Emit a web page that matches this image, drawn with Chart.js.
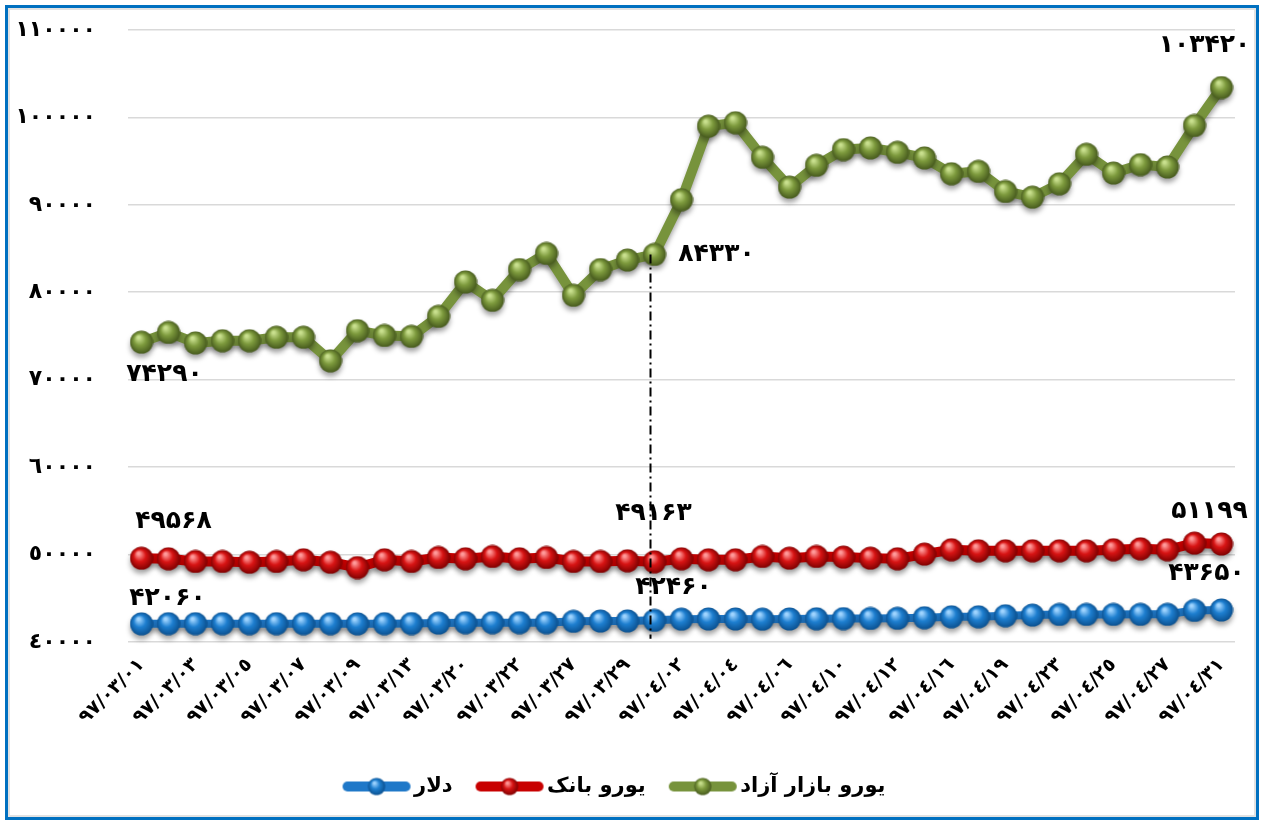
<!DOCTYPE html>
<html>
<head>
<meta charset="utf-8">
<script src="https://cdn.jsdelivr.net/npm/chart.js@4.4.1/dist/chart.umd.min.js"></script>
<style>
  body { margin: 0; background: #fff; }
  #frame { position: absolute; left: 5px; top: 5px; width: 1248px; height: 809px;
           border: 3px solid #0070C0; box-shadow: inset 0 0 0 2px #e2e2e2; background: #fff; }
  #wrap { position: absolute; left: 0; top: 0; width: 1262px; height: 823px; }
</style>
</head>
<body>
<div id="frame"></div>
<div id="wrap"><canvas id="chart"></canvas></div>
<script>
// تاریخ ها
const dates = ['97/03/01','97/03/02','97/03/03','97/03/04','97/03/05','97/03/06','97/03/07','97/03/08','97/03/09','97/03/12',
  '97/03/13','97/03/19','97/03/20','97/03/21','97/03/22','97/03/26','97/03/27','97/03/28','97/03/29','97/03/30',
  '97/04/02','97/04/03','97/04/04','97/04/05','97/04/06','97/04/09','97/04/10','97/04/11','97/04/12','97/04/13',
  '97/04/16','97/04/17','97/04/19','97/04/20','97/04/23','97/04/24','97/04/25','97/04/26','97/04/27','97/04/30','97/04/31'];

const euroFree = [74290, 75400, 74200, 74450, 74450, 74850, 74850, 72150, 75600, 75050,
  74950, 77240, 81180, 79080, 82600, 84440, 79650, 82600, 83680, 84330,
  90580, 99000, 99390, 95440, 92030, 94520, 96320, 96510, 96010, 95370,
  93560, 93830, 91530, 90880, 92410, 95780, 93640, 94600, 94330, 99080, 103420];

const euroBank = [49568, 49505, 49195, 49195, 49115, 49195, 49390, 49115, 48505, 49390,
  49195, 49655, 49505, 49770, 49505, 49655, 49195, 49195, 49275, 49163,
  49505, 49390, 49390, 49770, 49575, 49770, 49700, 49580, 49505, 50040,
  50540, 50420, 50420, 50420, 50420, 50420, 50540, 50650, 50540, 51300, 51199];

const dollar = [42060, 42080, 42080, 42080, 42080, 42080, 42080, 42080, 42060, 42080,
  42100, 42150, 42200, 42200, 42200, 42200, 42350, 42380, 42400, 42460,
  42600, 42620, 42620, 42600, 42620, 42640, 42660, 42680, 42700, 42760,
  42870, 42870, 42990, 43060, 43140, 43140, 43140, 43150, 43150, 43600, 43650];

const seriesNames = ['دلار', 'یورو بانک', 'یورو بازار آزاد'];
const yMin = 40000, yMax = 110000, yStep = 10000;
const markedIndex = 19; // خط عمودی

const FONT = "'DejaVu Sans', sans-serif";

function arDigits(s) {
  return String(s).replace(/[0-9]/g, d => String.fromCharCode(0x0660 + Number(d)));
}
function faDigits(s) {
  return String(s).replace(/[0-9]/g, d => String.fromCharCode(0x06F0 + Number(d)));
}

// توپ سه بعدی برای نقاط
function makeBall(size, light, base, dark) {
  const c = document.createElement('canvas');
  c.width = size; c.height = size;
  const g = c.getContext('2d');
  const r = size / 2;
  const grad = g.createRadialGradient(r * 0.75, r * 0.6, r * 0.1, r, r, r);
  grad.addColorStop(0, light);
  grad.addColorStop(0.45, base);
  grad.addColorStop(1, dark);
  g.fillStyle = grad;
  g.beginPath();
  g.arc(r, r, r - 0.5, 0, Math.PI * 2);
  g.fill();
  return c;
}

function makeLegendMark(ball, color, lw) {
  const c = document.createElement('canvas');
  c.width = 70; c.height = 20;
  const g = c.getContext('2d');
  g.strokeStyle = color;
  g.lineWidth = lw;
  g.lineCap = 'round';
  g.beginPath();
  g.moveTo(6, 10); g.lineTo(64, 10);
  g.stroke();
  g.drawImage(ball, 35 - 9, 1, 18, 18);
  return c;
}

const blueBall = makeBall(24, '#9fd4ff', '#1e7fd0', '#0a4e8c');
const redBall = makeBall(24, '#ff9a9a', '#d81414', '#7a0000');
const greenBall = makeBall(24, '#c9e08e', '#7d9a3d', '#44571c');

const legendMarks = [
  makeLegendMark(blueBall, '#1f78c8', 10),
  makeLegendMark(redBall, '#c80000', 10),
  makeLegendMark(greenBall, '#77933C', 10)
];

// برچسب های داده
const dataLabels = [
  { ds: 2, i: 0, dx: 23, dy: 32 },
  { ds: 2, i: markedIndex, dx: 62, dy: 0 },
  { ds: 2, i: 40, dx: -17, dy: -42 },
  { ds: 1, i: 0, dx: 32, dy: -37 },
  { ds: 1, i: markedIndex, dx: -1, dy: -48 },
  { ds: 1, i: 40, dx: -12, dy: -32 },
  { ds: 0, i: 0, dx: 26, dy: -25 },
  { ds: 0, i: markedIndex, dx: 19, dy: -33 },
  { ds: 0, i: 40, dx: -15, dy: -36 }
];

const shadowPlugin = {
  id: 'shadow',
  beforeDatasetDraw(chart) {
    const ctx = chart.ctx;
    ctx.save();
    ctx.shadowColor = 'rgba(0,0,0,0.35)';
    ctx.shadowBlur = 5;
    ctx.shadowOffsetY = 4;
  },
  afterDatasetDraw(chart) {
    chart.ctx.restore();
  }
};

const extrasPlugin = {
  id: 'extras',
  afterDatasetsDraw(chart) {
    const ctx = chart.ctx;
    const top = chart.getDatasetMeta(2).data[markedIndex];
    ctx.save();
    ctx.strokeStyle = '#000';
    ctx.lineWidth = 2;
    ctx.setLineDash([9, 4, 2, 4]);
    ctx.beginPath();
    ctx.moveTo(top.x - 4, top.y);
    ctx.lineTo(top.x - 4, chart.chartArea.bottom - 3);
    ctx.stroke();
    ctx.restore();

    ctx.save();
    ctx.fillStyle = '#000';
    ctx.font = 'bold 25px ' + FONT;
    ctx.textAlign = 'center';
    ctx.textBaseline = 'middle';
    dataLabels.forEach(l => {
      const pt = chart.getDatasetMeta(l.ds).data[l.i];
      const v = chart.data.datasets[l.ds].data[l.i];
      ctx.fillText(faDigits(v), pt.x + l.dx, pt.y + l.dy);
    });
    ctx.restore();
  }
};

new Chart(document.getElementById('chart'), {
  type: 'line',
  data: {
    labels: dates,
    datasets: [
      { label: seriesNames[0], data: dollar, borderColor: '#1f78c8', borderWidth: 8,
        pointStyle: blueBall, clip: false },
      { label: seriesNames[1], data: euroBank, borderColor: '#c80000', borderWidth: 10,
        pointStyle: redBall, clip: false },
      { label: seriesNames[2], data: euroFree, borderColor: '#77933C', borderWidth: 10,
        pointStyle: greenBall, clip: false }
    ]
  },
  options: {
    responsive: true,
    maintainAspectRatio: false,
    animation: false,
    layout: { padding: { top: 30, right: 27, bottom: 16, left: 0 } },
    elements: { line: { tension: 0, borderJoinStyle: 'round' } },
    plugins: {
      tooltip: { enabled: false },
      legend: {
        position: 'bottom',
        labels: {
          usePointStyle: true,
          pointStyleWidth: 54,
          padding: 30,
          color: '#000',
          font: { family: FONT, size: 21, weight: 'bold' },
          generateLabels(chart) {
            const items = Chart.defaults.plugins.legend.labels.generateLabels(chart);
            items.forEach((it, k) => { it.pointStyle = legendMarks[k]; });
            return items;
          }
        }
      }
    },
    scales: {
      x: {
        offset: true,
        grid: { display: false },
        border: { display: false },
        afterFit(scale) {
          scale.paddingLeft = 0;
          scale.paddingRight = 0;
          scale.height += 13;
        },
        ticks: {
          autoSkip: false,
          minRotation: 45,
          maxRotation: 45,
          color: '#000',
          padding: 4,
          font: { family: FONT, size: 19, weight: 'bold' },
          callback(v, i) { return i % 2 === 0 ? arDigits(dates[i]) : ''; }
        }
      },
      y: {
        min: yMin,
        max: yMax,
        grid: { color: '#d9d9d9', lineWidth: 1.5, drawTicks: false },
        border: { display: false },
        afterFit(scale) {
          scale.width = 128;
          scale.paddingTop = 0;
          scale.paddingBottom = 0;
        },
        ticks: {
          stepSize: yStep,
          padding: 32,
          color: '#000',
          font: { family: FONT, size: 22, weight: 'bold' },
          callback(v) { return arDigits(v); }
        }
      }
    }
  },
  plugins: [shadowPlugin, extrasPlugin]
});
</script>
</body>
</html>
